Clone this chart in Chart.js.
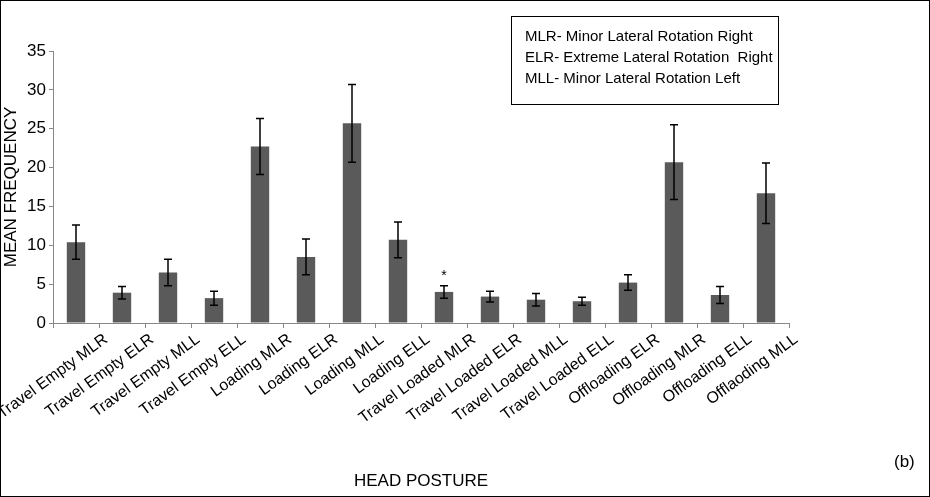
<!DOCTYPE html>
<html><head><meta charset="utf-8">
<script src="https://cdn.jsdelivr.net/npm/chart.js@4"></script>
<style>
body{margin:0;background:#fff}
#wrap{position:relative;width:928px;height:495px;border:1px solid #000}
</style></head><body>
<div id="wrap"><canvas id="c"></canvas></div>
<script>
const postures = ['Travel Empty MLR','Travel Empty ELR','Travel Empty MLL','Travel Empty ELL','Loading MLR','Loading ELR','Loading MLL','Loading ELL','Travel Loaded MLR','Travel Loaded ELR','Travel Loaded MLL','Travel Loaded ELL','Offloading ELR','Offloading MLR','Offloading ELL','Offlaoding MLL'];
const meanFreq = [10.4,3.9,6.5,3.2,22.7,8.5,25.7,10.7,4.0,3.4,3.0,2.8,5.2,20.7,3.6,16.7];
const errFreq = [2.2,0.8,1.7,0.9,3.6,2.3,5.0,2.3,0.8,0.7,0.8,0.5,1.0,4.8,1.1,3.9];
const legendLines = ['MLR- Minor Lateral Rotation Right','ELR- Extreme Lateral Rotation  Right','MLL- Minor Lateral Rotation Left'];

const font = 'Arial, "Liberation Sans"';

const extras = {
    id: 'extras',
    afterDatasetsDraw(chart) {
        const ctx = chart.ctx, y = chart.scales.y;
        const meta = chart.getDatasetMeta(0);
        ctx.save();
        ctx.strokeStyle = '#000';
        ctx.lineWidth = 1.5;
        meta.data.forEach((bar, i) => {
            const top = y.getPixelForValue(meanFreq[i] + errFreq[i]);
            const bot = y.getPixelForValue(meanFreq[i] - errFreq[i]);
            ctx.beginPath();
            ctx.moveTo(bar.x, top); ctx.lineTo(bar.x, bot);
            ctx.moveTo(bar.x - 4, top); ctx.lineTo(bar.x + 4, top);
            ctx.moveTo(bar.x - 4, bot); ctx.lineTo(bar.x + 4, bot);
            ctx.stroke();
        });
        const b = meta.data[8];
        ctx.lineWidth = 1;
        ctx.fillStyle = '#000';
        ctx.font = '14px ' + font;
        ctx.textAlign = 'center';
        ctx.fillText('*', b.x, y.getPixelForValue(meanFreq[8] + errFreq[8]) - 6);
        ctx.strokeRect(510.5, 15.5, 267, 88);
        ctx.textAlign = 'left';
        ctx.font = '15px ' + font;
        legendLines.forEach((t, i) => ctx.fillText(t, 524, 40 + i * 21));
        ctx.font = '17px ' + font;
        ctx.fillText('(b)', 893, 466);
        ctx.restore();
    }
};

new Chart(document.getElementById('c'), {
    type: 'bar',
    data: {
        labels: postures,
        datasets: [{ data: meanFreq, backgroundColor: '#5a5a5a', categoryPercentage: 0.4, barPercentage: 1 }]
    },
    options: {
        responsive: true, maintainAspectRatio: false, animation: false,
        layout: { padding: { top: 50, right: 140, left: 0, bottom: 0 } },
        plugins: { legend: { display: false }, tooltip: { enabled: false } },
        scales: {
            x: {
                afterFit: s => { s.height = 173; s.paddingLeft = 0; s.paddingRight = 0; },
                grid: { drawOnChartArea: false, color: '#888', tickLength: 5 },
                border: { color: '#888' },
                ticks: { color: '#000', minRotation: 36, maxRotation: 36, labelOffset: 30, font: { size: 16, family: font }, padding: 2 },
                title: { display: true, text: 'HEAD POSTURE', color: '#000', font: { size: 17, family: font }, padding: { top: 0, bottom: 4 } }
            },
            y: {
                afterFit: s => { s.width = 52; },
                min: 0, max: 35,
                grid: { drawOnChartArea: false, color: '#888', tickLength: 4 },
                border: { color: '#888' },
                ticks: { stepSize: 5, color: '#000', font: { size: 17, family: font } },
                title: { display: true, text: 'MEAN FREQUENCY', color: '#000', font: { size: 17, family: font }, padding: { top: 0, bottom: 0 } }
            }
        }
    },
    plugins: [extras]
});
</script>
</body></html>
